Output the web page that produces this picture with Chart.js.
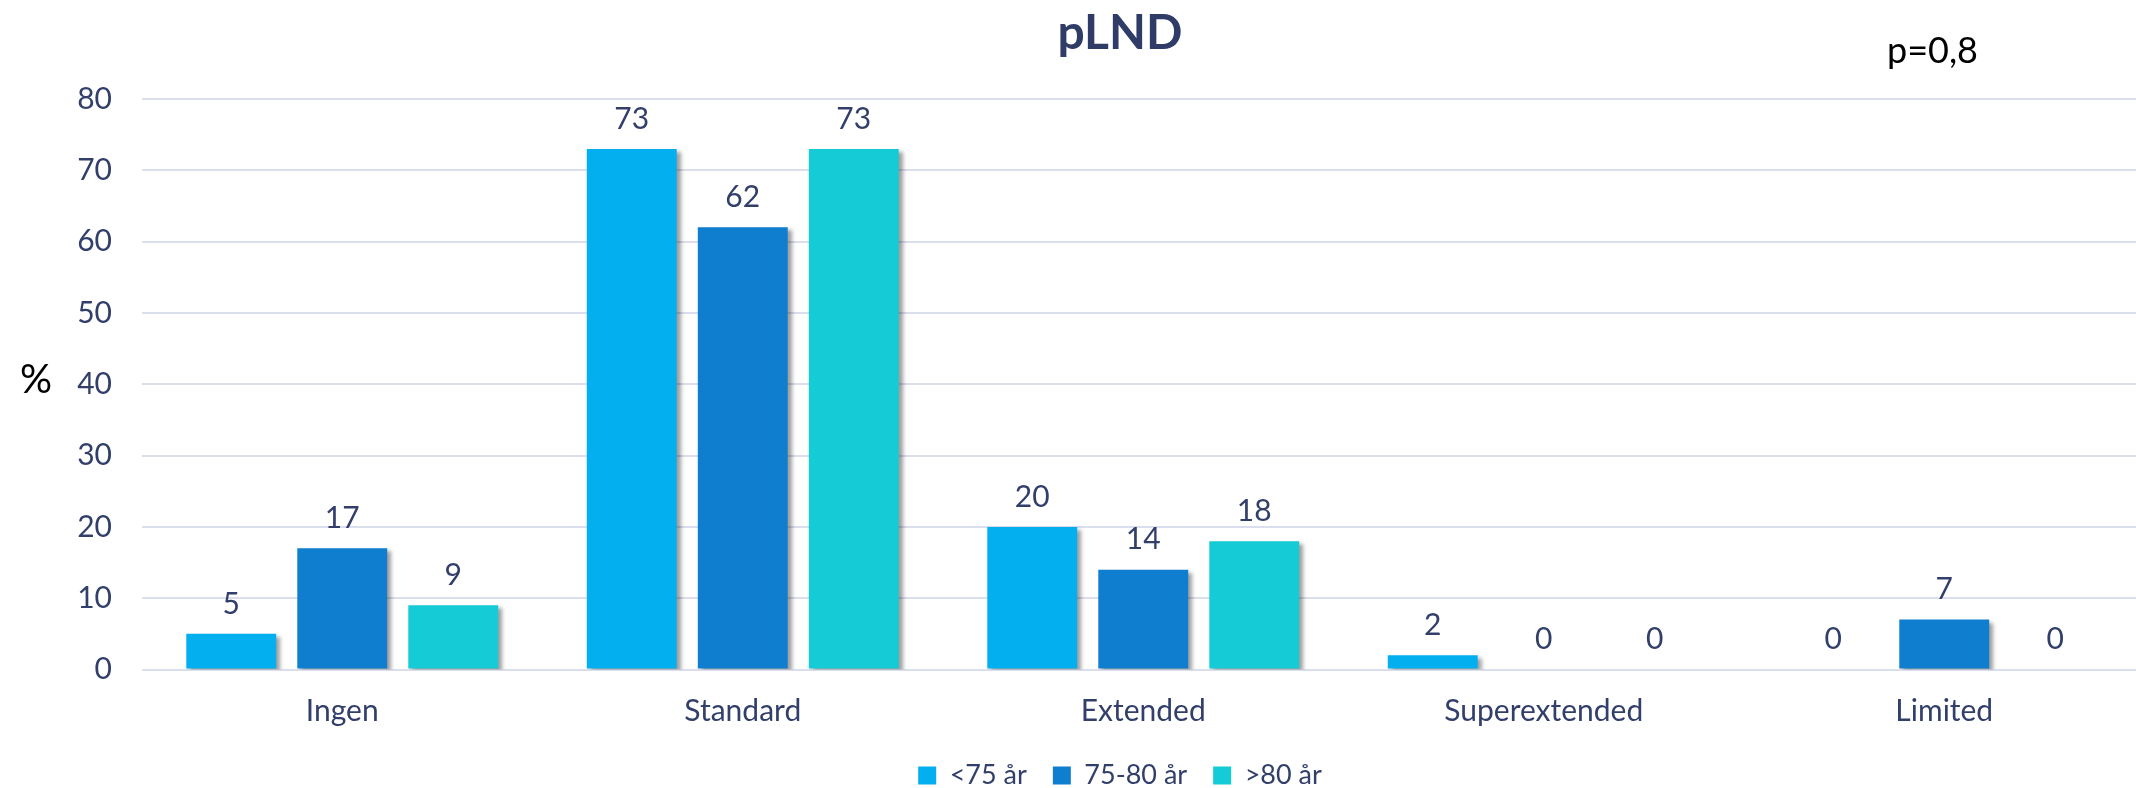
<!DOCTYPE html>
<html>
<head>
<meta charset="utf-8">
<script src="https://cdn.jsdelivr.net/npm/chart.js@4/dist/chart.umd.min.js"></script>
<style>
  html, body { margin: 0; padding: 0; background: #fff; overflow: hidden; }
  #main-container { position: relative; width: 2240px; height: 799px; }
</style>
</head>
<body>
<div id="main-container"><canvas id="chart" width="2240" height="799"></canvas></div>
<script>
const CATEGORIES = ["Ingen", "Standard", "Extended", "Superextended", "Limited"];
const SERIES_LABELS = ["<75 år", "75-80 år", ">80 år"];
const UNDER_75 = [5, 73, 20, 2, 0];
const AGE_75_80 = [17, 62, 14, 0, 7];
const OVER_80 = [9, 73, 18, 0, 0];
const Y_MIN = 0;
const Y_MAX = 80;
const Y_STEP = 10;
const TITLE = "pLND";
const Y_LABEL = "%";
const P_VALUE = "p=0,8";

const SERIES_COLORS = ["#04AFEF", "#0F7ECF", "#14CBD6"];
const TEXT_COLOR = "#323F6B";
const GRID_COLOR = "#DADEED";
const FONT = "Lato";

// soft drop shadow under the bars, like the office chart
const BAR_SHADOW_PLUGIN = {
  id: "barShadow",
  beforeDatasetsDraw: (chart) => {
    let ctx = chart.ctx;
    ctx.save();
    ctx.shadowColor = "rgba(0, 0, 0, 0.38)";
    ctx.shadowBlur = 4;
    ctx.shadowOffsetX = 4;
    ctx.shadowOffsetY = 3;
  },
  afterDatasetsDraw: (chart) => {
    chart.ctx.restore();
  },
};

const VALUE_LABEL_PLUGIN = {
  id: "valueLabels",
  afterDatasetsDraw: (chart) => {
    let ctx = chart.ctx;
    ctx.save();
    ctx.font = `30px ${FONT}`;
    ctx.fillStyle = TEXT_COLOR;
    ctx.textAlign = "center";
    ctx.textBaseline = "middle";
    chart.data.datasets.forEach((ds, i) => {
      chart.getDatasetMeta(i).data.forEach((bar, j) => {
        ctx.fillText(String(ds.data[j]), bar.x, bar.y - 30);
      });
    });
    ctx.restore();
  },
};

const EXTRA_TEXT_PLUGIN = {
  id: "extraText",
  afterDraw: (chart) => {
    let ctx = chart.ctx;
    let yAxis = chart.scales.y;
    ctx.save();
    ctx.fillStyle = "#000000";
    ctx.textAlign = "center";
    ctx.textBaseline = "middle";
    ctx.font = `40px ${FONT}`;
    ctx.fillText(Y_LABEL, 36, (yAxis.top + yAxis.bottom) / 2 - 4);
    ctx.textAlign = "left";
    ctx.textBaseline = "alphabetic";
    ctx.font = `36px ${FONT}`;
    ctx.fillText(P_VALUE, 1887, 63);
    ctx.restore();
  },
};

const datasets = [UNDER_75, AGE_75_80, OVER_80].map((values, i) => ({
  label: SERIES_LABELS[i],
  data: values,
  backgroundColor: SERIES_COLORS[i],
  borderWidth: 0,
  categoryPercentage: 0.8315,
  barPercentage: 0.81,
  yAxisID: "y",
}));

new Chart(document.getElementById("chart"), {
  type: "bar",
  data: { labels: CATEGORIES, datasets },
  options: {
    responsive: false,
    animation: false,
    devicePixelRatio: 1,
    layout: { padding: 0 },
    plugins: {
      tooltip: { enabled: false },
      title: {
        display: true,
        text: TITLE,
        color: "#2F3C67",
        font: { family: FONT, size: 48, weight: "bold" },
        padding: { top: 5.2, bottom: 36.2 },
      },
      legend: {
        position: "bottom",
        labels: {
          color: TEXT_COLOR,
          font: { family: FONT, size: 27 },
          boxWidth: 18,
          boxHeight: 18,
          padding: 26,
        },
      },
    },
    scales: {
      x: {
        grid: { display: false },
        border: { display: false },
        ticks: {
          color: TEXT_COLOR,
          font: { family: FONT, size: 30 },
          padding: 16,
        },
        afterFit: (scale) => {
          scale.height = 66.5;
        },
      },
      y: {
        min: Y_MIN,
        max: Y_MAX,
        grid: { color: GRID_COLOR, lineWidth: 2, drawTicks: false },
        border: { display: false },
        ticks: {
          stepSize: Y_STEP,
          color: TEXT_COLOR,
          font: { family: FONT, size: 30 },
          padding: 30,
        },
        afterFit: (scale) => {
          scale.width = 142;
        },
      },
      yRight: {
        position: "right",
        grid: { display: false },
        border: { display: false },
        ticks: { display: false },
        afterFit: (scale) => {
          scale.width = 95.5;
        },
      },
    },
  },
  plugins: [BAR_SHADOW_PLUGIN, VALUE_LABEL_PLUGIN, EXTRA_TEXT_PLUGIN],
});
</script>
</body>
</html>
